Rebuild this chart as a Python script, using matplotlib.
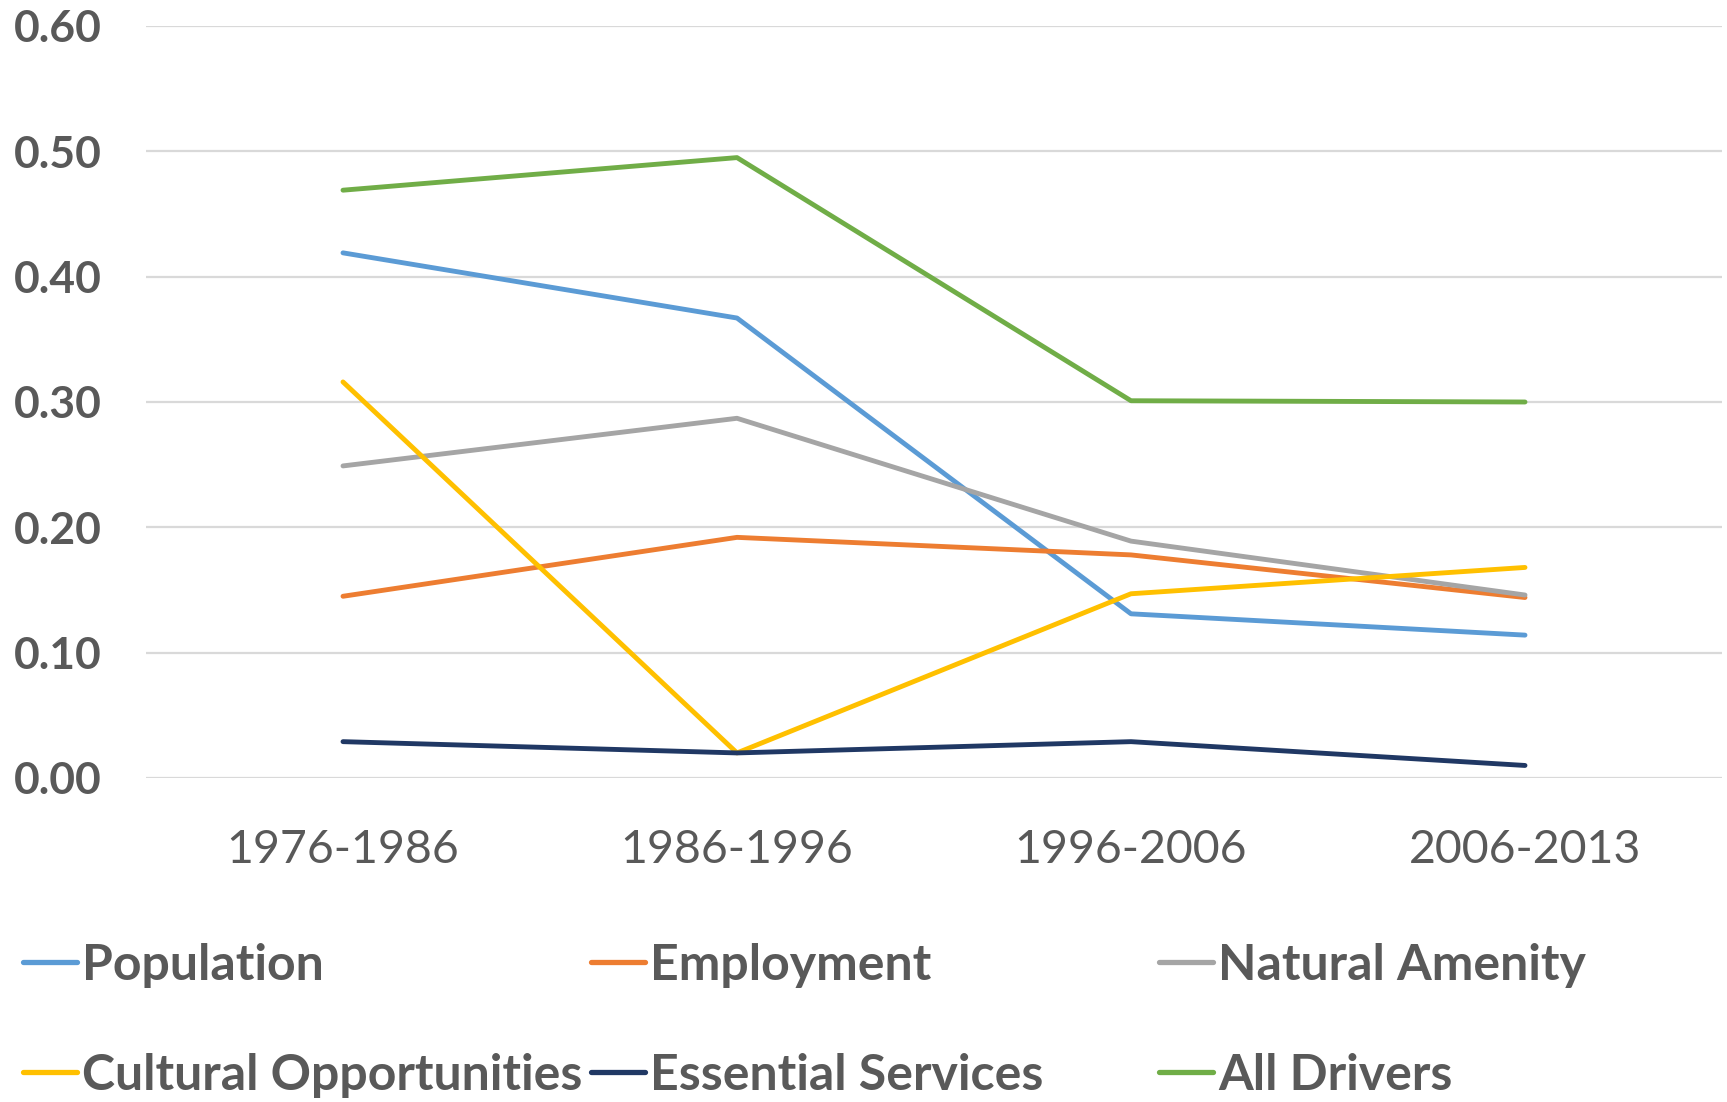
import matplotlib.pyplot as plt

periods = ['1976-1986', '1986-1996', '1996-2006', '2006-2013']

population = [0.419, 0.367, 0.131, 0.114]
employment = [0.145, 0.192, 0.178, 0.144]
natural_amenity = [0.249, 0.287, 0.189, 0.146]
cultural = [0.316, 0.020, 0.147, 0.168]
essential = [0.029, 0.020, 0.029, 0.010]
all_drivers = [0.469, 0.495, 0.301, 0.300]

series_names = ['Population', 'Employment', 'Natural Amenity',
                'Cultural Opportunities', 'Essential Services', 'All Drivers']
series_vals = [population, employment, natural_amenity, cultural, essential, all_drivers]
colors = ['#5B9BD5', '#ED7D31', '#A5A5A5', '#FFC000', '#203864', '#70AD47']

yticks = [0.0, 0.1, 0.2, 0.3, 0.4, 0.5, 0.6]

text_col = '#595959'
plt.rcParams['font.family'] = ['Lato', 'DejaVu Sans']

fig = plt.figure(figsize=(17.27, 11.02), dpi=100)
ax = fig.add_axes([146 / 1727, 1 - 778 / 1102, (1722 - 146) / 1727, (778 - 26) / 1102])

x = list(range(len(periods)))
handles = []
for name, vals, c in zip(series_names, series_vals, colors):
    h, = ax.plot(x, vals, color=c, lw=3.5, solid_capstyle='round',
                 solid_joinstyle='round', label=name, zorder=3)
    handles.append(h)

ax.set_xlim(-0.5, 3.5)
ax.set_ylim(0, 0.6)
ax.set_yticks(yticks)
ax.set_yticklabels([f'{v:.2f}' for v in yticks], fontsize=32, fontweight='bold', color=text_col)
ax.set_xticks(x)
ax.set_xticklabels(periods, fontsize=33.5, color=text_col)
ax.tick_params(axis='y', length=0, pad=32)
ax.tick_params(axis='x', length=0, pad=37)
ax.grid(axis='y', color='#D9D9D9', lw=1.6, zorder=0)
for s in ax.spines.values():
    s.set_visible(False)

# Excel style legend: three equally spaced columns
col_x = [23, 591, 1159]
for i, cx in enumerate(col_x):
    hs = [handles[i], handles[i + 3]]
    leg = fig.legend(handles=hs, labels=[h.get_label() for h in hs],
                     loc='center left', bbox_to_anchor=(cx / 1727, 1 - 1020 / 1102),
                     frameon=False, borderpad=0, borderaxespad=0,
                     handlelength=1.08, handletextpad=0.1, labelspacing=1.3,
                     prop={'size': 36, 'weight': 'bold'})
    for t in leg.get_texts():
        t.set_color(text_col)
    for l in leg.get_lines():
        l.set_linewidth(3.8)

fig.savefig('out.png', dpi=100)
